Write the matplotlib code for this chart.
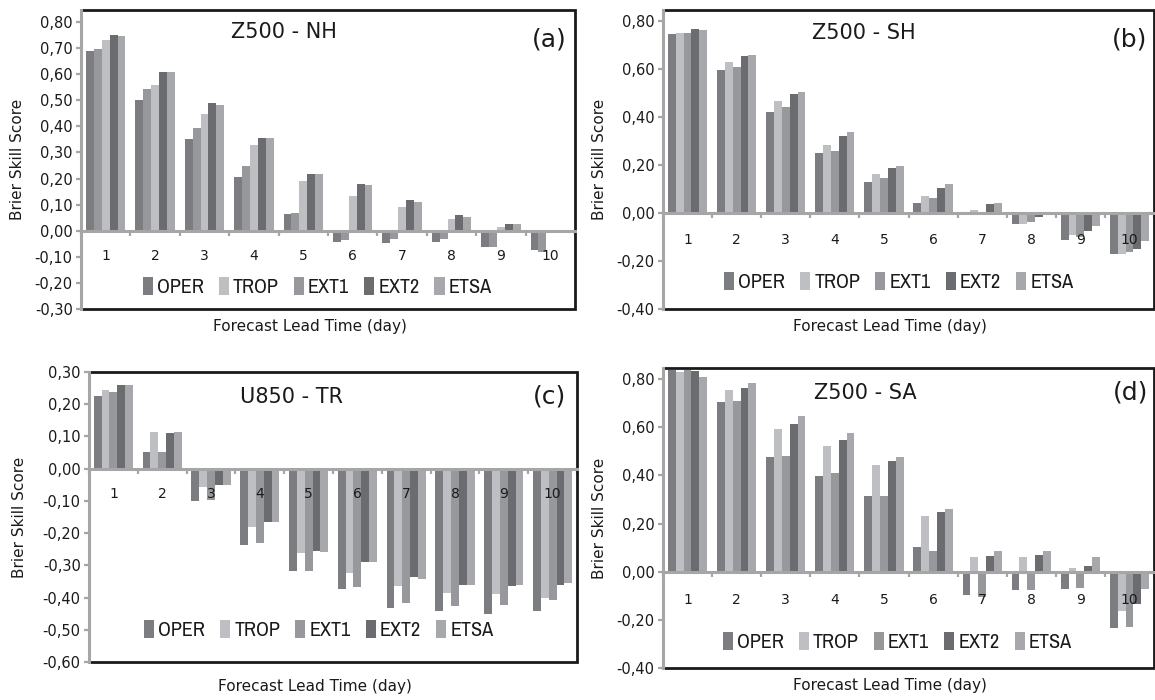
import numpy as np
import matplotlib
matplotlib.use("Agg")
import matplotlib.pyplot as plt
from matplotlib.lines import Line2D
from matplotlib.font_manager import FontProperties, fontManager

plt.rcParams['font.family'] = ['DejaVu Sans']

# ---------------- data ----------------
days = list(range(1, 11))
series = ["OPER", "TROP", "EXT1", "EXT2", "ETSA"]
colors = {"OPER": "#7c7d81", "TROP": "#bebfc3", "EXT1": "#97989c",
          "EXT2": "#6b6c70", "ETSA": "#a7a8ac"}

# (a) Z500 - NH
nh_oper = [0.690, 0.500, 0.350, 0.205, 0.065, -0.045, -0.048, -0.045, -0.064, -0.074]
nh_trop = [0.730, 0.558, 0.447, 0.328, 0.190, 0.133, 0.090, 0.046, 0.015, -0.005]
nh_ext1 = [0.697, 0.543, 0.395, 0.248, 0.068, -0.036, -0.030, -0.030, -0.064, -0.083]
nh_ext2 = [0.752, 0.610, 0.490, 0.355, 0.217, 0.181, 0.119, 0.061, 0.024, 0.002]
nh_etsa = [0.747, 0.610, 0.482, 0.355, 0.217, 0.176, 0.111, 0.054, 0.024, 0.002]

# (b) Z500 - SH
sh_oper = [0.746, 0.595, 0.421, 0.251, 0.127, 0.042, -0.008, -0.048, -0.113, -0.173]
sh_trop = [0.749, 0.628, 0.466, 0.284, 0.163, 0.072, 0.010, -0.048, -0.094, -0.173]
sh_ext1 = [0.749, 0.608, 0.441, 0.256, 0.147, 0.060, 0.005, -0.038, -0.100, -0.162]
sh_ext2 = [0.766, 0.653, 0.495, 0.318, 0.188, 0.105, 0.035, -0.018, -0.076, -0.150]
sh_etsa = [0.762, 0.657, 0.504, 0.338, 0.194, 0.122, 0.040, -0.005, -0.053, -0.118]

# (c) U850 - TR
tr_oper = [0.226, 0.051, -0.099, -0.236, -0.317, -0.374, -0.433, -0.442, -0.450, -0.442]
tr_trop = [0.244, 0.113, -0.057, -0.180, -0.263, -0.324, -0.364, -0.387, -0.390, -0.402]
tr_ext1 = [0.238, 0.051, -0.097, -0.232, -0.317, -0.367, -0.416, -0.426, -0.423, -0.407]
tr_ext2 = [0.260, 0.110, -0.052, -0.164, -0.255, -0.291, -0.336, -0.361, -0.364, -0.361]
tr_etsa = [0.260, 0.113, -0.052, -0.167, -0.260, -0.291, -0.343, -0.361, -0.361, -0.354]

# (d) Z500 - SA
sa_oper = [0.838, 0.705, 0.478, 0.398, 0.314, 0.101, -0.095, -0.078, -0.070, -0.233]
sa_trop = [0.831, 0.754, 0.591, 0.524, 0.444, 0.230, 0.059, 0.063, 0.017, -0.165]
sa_ext1 = [0.838, 0.708, 0.482, 0.411, 0.314, 0.087, -0.105, -0.074, -0.066, -0.230]
sa_ext2 = [0.834, 0.762, 0.612, 0.549, 0.461, 0.247, 0.067, 0.071, 0.025, -0.134]
sa_etsa = [0.807, 0.785, 0.645, 0.578, 0.478, 0.260, 0.088, 0.088, 0.063, -0.070]

ylabel = "Brier Skill Score"
xlabel = "Forecast Lead Time (day)"

panels = [
    dict(title="Z500 - NH", letter="(a)",
         data={"OPER": nh_oper, "TROP": nh_trop, "EXT1": nh_ext1, "EXT2": nh_ext2, "ETSA": nh_etsa},
         order=["OPER", "EXT1", "TROP", "EXT2", "ETSA"],
         ylim=(-0.30, 0.846), yticks=np.round(np.arange(-0.3, 0.81, 0.1), 2),
         rect=(81, 575, 10, 309), title_xy=(0.41, 0.926), letter_xy=(0.984, 0.90),
         leg_xy=(0.478, 0.074), ylab_x=-0.113, xlab_y=-0.060, xpad=13.0),
    dict(title="Z500 - SH", letter="(b)",
         data={"OPER": sh_oper, "TROP": sh_trop, "EXT1": sh_ext1, "EXT2": sh_ext2, "ETSA": sh_etsa},
         order=series,
         ylim=(-0.40, 0.844), yticks=np.round(np.arange(-0.4, 0.81, 0.2), 2),
         rect=(663, 1154, 10, 309), title_xy=(0.41, 0.923), letter_xy=(0.986, 0.903),
         leg_xy=(0.48, 0.09), ylab_x=-0.114, xlab_y=-0.060, xpad=14.5),
    dict(title="U850 - TR", letter="(c)",
         data={"OPER": tr_oper, "TROP": tr_trop, "EXT1": tr_ext1, "EXT2": tr_ext2, "ETSA": tr_etsa},
         order=series,
         ylim=(-0.60, 0.30), yticks=np.round(np.arange(-0.6, 0.31, 0.1), 2),
         rect=(89, 577, 372, 662), title_xy=(0.414, 0.914), letter_xy=(0.977, 0.914),
         leg_xy=(0.471, 0.11), ylab_x=-0.127, xlab_y=-0.086, xpad=13.5),
    dict(title="Z500 - SA", letter="(d)",
         data={"OPER": sa_oper, "TROP": sa_trop, "EXT1": sa_ext1, "EXT2": sa_ext2, "ETSA": sa_etsa},
         order=series,
         ylim=(-0.40, 0.846), yticks=np.round(np.arange(-0.4, 0.81, 0.2), 2),
         rect=(663, 1154, 368, 668), title_xy=(0.413, 0.917), letter_xy=(0.988, 0.917),
         leg_xy=(0.477, 0.087), ylab_x=-0.114, xlab_y=-0.057, xpad=15.0),
]

W, H = 1155, 700
fig = plt.figure(figsize=(W / 100, H / 100), dpi=100)
gray = "#a6a6a6"
dark = "#1a1a1a"

# condensed / narrow face for the legend, if one is installed
cond = [f for f in fontManager.ttflist
        if ("Condensed" in f.fname or "Narrow" in f.fname) and "Bold" not in f.fname
        and "Oblique" not in f.fname and "Italic" not in f.fname]
cond.sort(key=lambda f: 0 if "Narrow" in f.fname else 1)
if cond:
    leg_font = FontProperties(fname=cond[0].fname, size=14.5)
else:
    leg_font = FontProperties(family="DejaVu Sans", size=11)


def fmt(v):
    v = round(float(v), 2)
    if abs(v) < 1e-9:
        v = 0.0
    return f"{v:.2f}".replace(".", ",")


for p in panels:
    l, r, t, b = p["rect"]
    ax = fig.add_axes([l / W, 1 - b / H, (r - l) / W, (b - t) / H])
    ax.set_xlim(0.5, 10.5)
    ax.set_ylim(*p["ylim"])
    w = 0.16
    x = np.array(days, dtype=float)
    containers = {}
    for i, s in enumerate(p["order"]):
        containers[s] = ax.bar(x + (i - 2) * w, p["data"][s], width=w,
                               color=colors[s], linewidth=0, label=s, zorder=1)

    ax.spines["top"].set_visible(False)
    ax.spines["right"].set_visible(False)
    ax.spines["bottom"].set_position(("data", 0))
    for s in ["bottom", "left"]:
        ax.spines[s].set_color(gray)
        ax.spines[s].set_linewidth(2.2)
        ax.spines[s].set_zorder(4)

    # black frame (top, right, bottom)
    ax.add_line(Line2D([0, 1, 1, 0], [0, 0, 1, 1], transform=ax.transAxes,
                       color=dark, lw=2.0, clip_on=False, zorder=3,
                       solid_joinstyle="miter"))

    ax.set_xticks(days)
    ax.set_xticklabels([str(d) for d in days])
    ax.set_xticks(np.arange(0.5, 10.6, 1.0), minor=True)
    ax.tick_params(axis="x", which="major", length=0, pad=p["xpad"],
                   labelsize=10, labelcolor=dark)
    ax.tick_params(axis="x", which="minor", length=3.5, width=1.6,
                   color=gray, direction="out")

    ax.set_yticks(p["yticks"])
    ax.set_yticklabels([fmt(v) for v in p["yticks"]])
    ax.tick_params(axis="y", length=3.5, width=1.6, color=gray, pad=2.5,
                   labelsize=10.5, labelcolor=dark)

    ax.set_ylabel(ylabel, fontsize=11, color=dark)
    ax.yaxis.set_label_coords(p["ylab_x"], 0.5)
    ax.set_xlabel(xlabel, fontsize=11, color=dark, va="center")
    ax.xaxis.set_label_coords(0.463, p["xlab_y"])

    ax.text(*p["title_xy"], p["title"], transform=ax.transAxes,
            ha="center", va="center", fontsize=15, color=dark)
    ax.text(*p["letter_xy"], p["letter"], transform=ax.transAxes,
            ha="right", va="center", fontsize=18, color=dark)

    leg = ax.legend([containers[s] for s in series], series, loc="center",
                    bbox_to_anchor=p["leg_xy"], ncol=5, frameon=False,
                    prop=leg_font, handlelength=0.5, handleheight=1.0,
                    handletextpad=0.2, columnspacing=0.75, borderpad=0,
                    borderaxespad=0)
    for txt in leg.get_texts():
        txt.set_color(dark)

fig.savefig("out.png", dpi=100)
